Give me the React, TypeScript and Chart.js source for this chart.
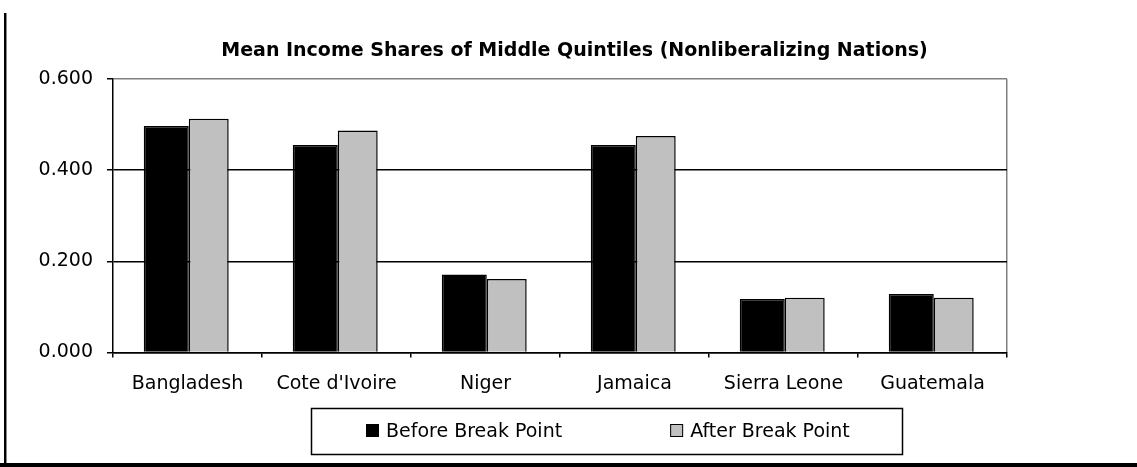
import React, { useEffect, useRef } from "react";
import { Chart, registerables } from "chart.js";

Chart.register(...registerables);

const categories = ["Bangladesh", "Cote d'Ivoire", "Niger", "Jamaica", "Sierra Leone", "Guatemala"];
const seriesNames = ["Before Break Point", "After Break Point"];
const beforeValues = [0.497, 0.455, 0.171, 0.455, 0.117, 0.128];
const afterValues = [0.513, 0.487, 0.161, 0.475, 0.12, 0.12];
const yTickValues = [0, 0.2, 0.4, 0.6];
const titleText = "Mean Income Shares of Middle Quintiles (Nonliberalizing Nations)";

const FONT = "'DejaVu Sans', 'Liberation Sans', sans-serif";

const shiftTitle = {
  id: "shiftTitle",
  afterLayout(chart: any) {
    const t = chart.titleBlock;
    if (t) {
      t.left += 14.5;
      t.right += 14.5;
    }
  },
};

const boxedLegend = {
  id: "boxedLegend",
  afterDraw(chart: any) {
    const { ctx, chartArea } = chart;
    const boxW = 591;
    const boxH = 46;
    const cx = (chartArea.left + chartArea.right) / 2 + 46.5;
    const left = Math.round(cx - boxW / 2) + 0.5;
    const top = chart.height - 59 + 0.5;
    ctx.save();
    ctx.strokeStyle = "#000";
    ctx.lineWidth = 1.5;
    ctx.strokeRect(left, top, boxW, boxH);
    ctx.font = `19px ${FONT}`;
    ctx.textBaseline = "alphabetic";
    ctx.textAlign = "left";
    let x = Math.round(left + 54);
    const sq = 13;
    const sqTop = Math.round(top + 15);
    const baseY = Math.round(top + 28);
    chart.data.datasets.forEach((ds: any) => {
      ctx.fillStyle = ds.backgroundColor;
      ctx.fillRect(x, sqTop, sq, sq);
      ctx.strokeStyle = "#000";
      ctx.lineWidth = 1;
      ctx.strokeRect(x + 0.5, sqTop + 0.5, sq - 1, sq - 1);
      ctx.fillStyle = "#000";
      ctx.fillText(ds.label, x + 20, baseY);
      x += 20 + ctx.measureText(ds.label).width + 108;
    });
    ctx.restore();
  },
};

export default function App() {
  const canvasRef = useRef<HTMLCanvasElement | null>(null);

  useEffect(() => {
    document.body.style.margin = "0";
    const canvas = canvasRef.current;
    if (!canvas) return;
    const chart = new Chart(canvas, {
      type: "bar",
      data: {
        labels: categories,
        datasets: [
          {
            label: seriesNames[0],
            data: beforeValues,
            backgroundColor: "#000000",
            borderColor: "#000000",
            borderWidth: 1.5,
            barPercentage: 1.06,
            categoryPercentage: 0.57,
          },
          {
            label: seriesNames[1],
            data: afterValues,
            backgroundColor: "#C0C0C0",
            borderColor: "#000000",
            borderWidth: 1.5,
            barPercentage: 0.94,
            categoryPercentage: 0.57,
          },
        ],
      },
      options: {
        responsive: false,
        animation: false,
        devicePixelRatio: 1,
        layout: { padding: { left: 0, right: 130, top: 0, bottom: 56.8 } },
        plugins: {
          legend: { display: false },
          tooltip: { enabled: false },
          title: {
            display: true,
            text: titleText,
            fullSize: false,
            color: "#000",
            font: { family: FONT, size: 19, weight: "bold" },
            padding: { top: 40, bottom: 16.2 },
          },
        },
        scales: {
          x: {
            offset: true,
            ticks: {
              color: "#000",
              font: { family: FONT, size: 19 },
              padding: 15,
              maxRotation: 0,
              autoSkip: false,
            },
            grid: {
              offset: true,
              color: (c: any) => (c.type === "scale" ? "#808080" : "rgba(0,0,0,0)"),
              tickColor: "#000",
              tickLength: 5,
              lineWidth: 1.5,
            },
            border: { color: "#000", width: 1.5 },
          },
          y: {
            min: 0,
            max: 0.6,
            afterBuildTicks: (scale: any) => {
              scale.ticks = yTickValues.map((v) => ({ value: v }));
            },
            afterFit: (scale: any) => {
              scale.width = 113;
            },
            ticks: {
              color: "#000",
              font: { family: FONT, size: 19 },
              padding: 14,
              callback: (v: any) => Number(v).toFixed(3),
            },
            grid: {
              color: (c: any) =>
                c.tick && Math.abs(c.tick.value - 0.6) < 1e-9 ? "#808080" : "#000",
              tickColor: "#000",
              tickLength: 6,
              lineWidth: 1.5,
            },
            border: { color: "#000", width: 1.5 },
          },
        },
      },
      plugins: [shiftTitle, boxedLegend],
    });
    return () => chart.destroy();
  }, []);

  return (
    <div style={{ position: "relative", width: 1137, height: 467, background: "#fff", overflow: "hidden" }}>
      <canvas ref={canvasRef} width={1137} height={467} style={{ display: "block" }} />
      <div
        style={{
          position: "absolute",
          left: 4,
          top: 13,
          width: 2,
          height: 454,
          background: "#000",
          borderRight: "1px solid #888",
        }}
      />
      <div
        style={{
          position: "absolute",
          left: 0,
          top: 463,
          width: 1137,
          height: 4,
          background: "#000",
        }}
      />
    </div>
  );
}
